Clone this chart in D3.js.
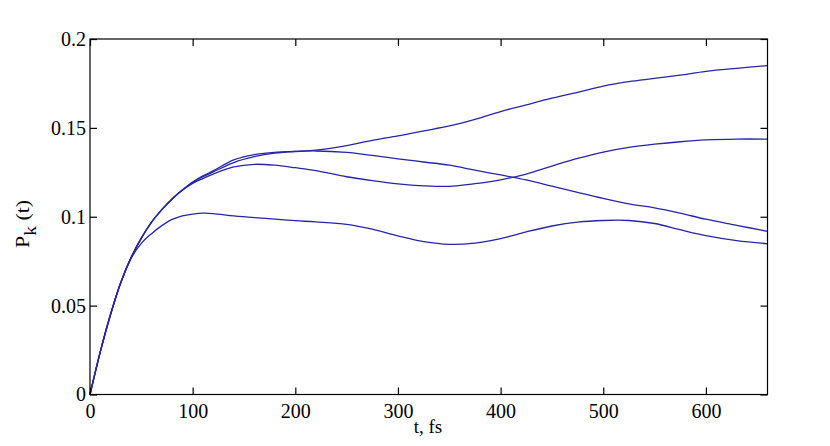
<!DOCTYPE html>
<html>
<head>
<meta charset="utf-8">
<script src="https://cdn.jsdelivr.net/npm/d3@7"></script>
<style>
  body { margin: 0; background: #fff; }
  text { font-family: "Liberation Serif", "Times New Roman", serif; }
</style>
</head>
<body>
<svg id="main-svg" width="830" height="446"></svg>
<script>
// ----- //
// data
// ----- //
// time axis, fs
const tValues = [0, 10, 20, 30, 40, 50, 60, 70, 80, 90, 100, 110, 120, 140, 160, 180, 200, 220, 250, 275,
                 300, 325, 350, 375, 400, 425, 450, 475, 500, 525, 550, 575, 600, 630, 660];
// upper curve (keeps rising)
const seriesA = [0, .024, .045, .063, .077, .088, .097, .104, .110, .115, .1195, .123, .1258, .132, .135, .1362, .1368, .1375, .1400, .1430,
                 .1455, .1483, .1511, .1548, .1592, .1630, .1667, .1700, .1735, .1760, .1778, .1797, .1818, .1835, .1850];
// second curve (peaks near 210 then falls)
const seriesB = [0, .024, .045, .063, .077, .088, .097, .104, .110, .115, .1192, .1225, .1252, .1305, .1338, .1358, .1367, .1370, .1362, .1345,
                 .1326, .1308, .1290, .1262, .1235, .1207, .1172, .1137, .1103, .1072, .1050, .1020, .0986, .0952, .0918];
// third curve (dips near 340 then rises)
const seriesC = [0, .024, .045, .063, .077, .088, .097, .104, .110, .115, .1188, .1215, .1240, .1280, .1295, .1290, .1276, .1260, .1225, .1203,
                 .1185, .1174, .1171, .1186, .1208, .1240, .1285, .1328, .1364, .1390, .1408, .1422, .1432, .1437, .1437];
// lower curve
const seriesD = [0, .024, .045, .063, .0765, .085, .0905, .0950, .0985, .1005, .1015, .1020, .1018, .1005, .0995, .0987, .0978, .0971, .0957, .0930,
                 .0892, .0860, .0845, .0852, .0877, .0915, .0948, .0970, .0979, .0979, .0962, .0927, .0894, .0866, .0848];
const allSeries = [seriesA, seriesB, seriesC, seriesD];

// tick labels
const xTicks = [0, 100, 200, 300, 400, 500, 600];
const yTicks = [0, 0.05, 0.1, 0.15, 0.2];
const yTickLabels = ["0", "0.05", "0.1", "0.15", "0.2"];

// ----- //
// layout
// ----- //
const svg = d3.select("#main-svg");
const boxLeft = 90, boxTop = 39, boxRight = 767.5, boxBottom = 394.5;
const tickLen = 7;

const x = d3.scaleLinear().domain([0, 660]).range([boxLeft, boxRight]);
const y = d3.scaleLinear().domain([0, 0.2]).range([boxBottom, boxTop]);

// curves
const line = d3.line()
    .x((d, i) => x(tValues[i]))
    .y(d => y(d))
    .curve(d3.curveCatmullRom.alpha(0.5));

svg.append("g")
    .selectAll("path")
    .data(allSeries)
    .enter()
    .append("path")
    .attr("d", line)
    .attr("fill", "none")
    .attr("stroke", "#2626a6")
    .attr("stroke-width", 1.3);

// box
svg.append("rect")
    .attr("x", boxLeft).attr("y", boxTop)
    .attr("width", boxRight - boxLeft).attr("height", boxBottom - boxTop)
    .attr("fill", "none")
    .attr("stroke", "#000")
    .attr("stroke-width", 1.2);

// axes, ticks inside on all four sides
const fontSize = "20px";
svg.append("g")
    .attr("transform", `translate(0,${boxBottom})`)
    .call(d3.axisBottom(x).tickValues(xTicks).tickSizeInner(-tickLen).tickSizeOuter(0).tickPadding(9));
svg.append("g")
    .attr("transform", `translate(${boxLeft},0)`)
    .call(d3.axisLeft(y).tickValues(yTicks).tickFormat((d, i) => yTickLabels[i])
        .tickSizeInner(-tickLen).tickSizeOuter(0).tickPadding(4));
svg.append("g")
    .attr("transform", `translate(0,${boxTop})`)
    .call(d3.axisTop(x).tickValues(xTicks).tickFormat("").tickSizeInner(-tickLen).tickSizeOuter(0));
svg.append("g")
    .attr("transform", `translate(${boxRight},0)`)
    .call(d3.axisRight(y).tickValues(yTicks).tickFormat("").tickSizeInner(-tickLen).tickSizeOuter(0));

svg.selectAll(".domain").remove();
svg.selectAll(".tick line").attr("stroke", "#000").attr("stroke-width", 1.2);
svg.selectAll(".tick text")
    .attr("fill", "#000")
    .style("font-family", "'Liberation Serif', serif")
    .style("font-size", fontSize);

// axis titles
svg.append("text")
    .attr("x", 428)
    .attr("y", 433)
    .attr("text-anchor", "middle")
    .style("font-size", "19px")
    .text("t, fs");

const yLabel = svg.append("text")
    .attr("transform", "translate(29,224) rotate(-90) scale(1.15,1)")
    .attr("text-anchor", "middle")
    .style("font-size", "19px");
yLabel.append("tspan").text("P");
yLabel.append("tspan").attr("dy", 7).style("font-size", "17px").text("k");
yLabel.append("tspan").attr("dy", -7).text(" (t)");
</script>
</body>
</html>
